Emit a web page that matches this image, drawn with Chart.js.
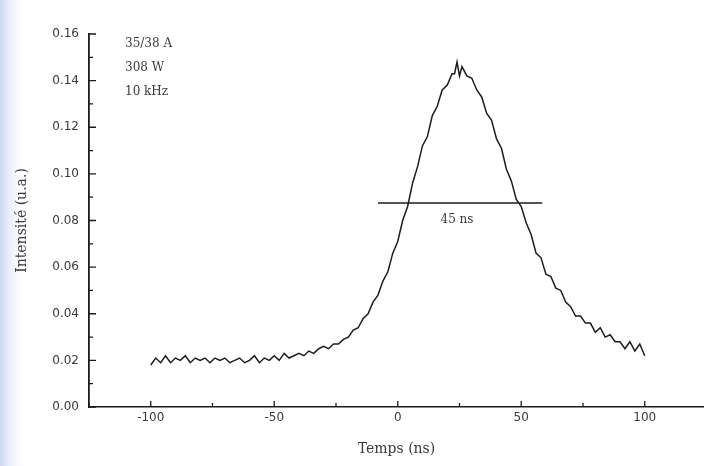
<!DOCTYPE html>
<html lang="fr">
<head>
    <meta charset="UTF-8">
    <title>Intensité vs temps</title>
    <script src="https://cdn.jsdelivr.net/npm/chart.js"></script>
    <style>
        html, body {
            margin: 0;
            padding: 0;
        }
        body {
            width: 704px;
            height: 466px;
            overflow: hidden;
            background: linear-gradient(to right, #cdd7f5 0px, #e6ecfa 8px, #f7f9fe 16px, #ffffff 24px);
        }
        canvas { display: block; }
    </style>
</head>
<body>
    <canvas id="pulseChart" width="704" height="466"></canvas>

    <script>
        const times = [
            -100, -98, -96, -94, -92, -90, -88, -86, -84, -82,
            -80, -78, -76, -74, -72, -70, -68, -66, -64, -62,
            -60, -58, -56, -54, -52, -50, -48, -46, -44, -42,
            -40, -38, -36, -34, -32, -30, -28, -26, -24, -22,
            -20, -18, -16, -14, -12, -10, -8, -6, -4, -2,
            0, 2, 4, 6, 8, 10, 12, 14, 16, 18,
            20, 22, 23, 24, 25, 26, 28, 30, 32, 34,
            36, 38, 40, 42, 44, 46, 48, 50, 52, 54,
            56, 58, 60, 62, 64, 66, 68, 70, 72, 74,
            76, 78, 80, 82, 84, 86, 88, 90, 92, 94,
            96, 98, 100
        ];
        const intensity = [
            0.018, 0.021, 0.019, 0.022, 0.019, 0.021, 0.020, 0.022, 0.019, 0.021,
            0.020, 0.021, 0.019, 0.021, 0.020, 0.021, 0.019, 0.020, 0.021, 0.019,
            0.020, 0.022, 0.019, 0.021, 0.020, 0.022, 0.020, 0.023, 0.021, 0.022,
            0.023, 0.022, 0.024, 0.023, 0.025, 0.026, 0.025, 0.027, 0.027, 0.029,
            0.030, 0.033, 0.034, 0.038, 0.040, 0.045, 0.048, 0.054, 0.058, 0.066,
            0.071, 0.080, 0.086, 0.096, 0.103, 0.112, 0.116, 0.125, 0.129, 0.136,
            0.138, 0.143, 0.143, 0.148, 0.142, 0.146, 0.142, 0.141, 0.136, 0.133,
            0.126, 0.123, 0.115, 0.111, 0.102, 0.097, 0.089, 0.086, 0.079, 0.074,
            0.066, 0.064, 0.057, 0.056, 0.051, 0.050, 0.045, 0.043, 0.039, 0.039,
            0.036, 0.036, 0.032, 0.034, 0.030, 0.031, 0.028, 0.028, 0.025, 0.028,
            0.024, 0.027, 0.022
        ];

        const xTicks = [-100, -50, 0, 50, 100];
        const xMinor = [-125, -75, -25, 25, 75];
        const yTicks = [0, 0.02, 0.04, 0.06, 0.08, 0.10, 0.12, 0.14, 0.16];
        const yMinor = [0.01, 0.03, 0.05, 0.07, 0.09, 0.11, 0.13, 0.15];

        // half-maximum marker
        const fwhmLevel = 0.0875;
        const fwhmFrom = -8;
        const fwhmTo = 58.5;
        const fwhmLabel = '45 ns';
        const conditions = ['35/38 A', '308 W', '10 kHz'];

        const ink = '#1c1c1c';
        const textInk = '#3a3a3a';

        const overlay = {
            id: 'overlay',
            afterDatasetsDraw(chart) {
                const { ctx, chartArea: a, scales: { x, y } } = chart;
                ctx.save();
                ctx.strokeStyle = ink;
                ctx.lineWidth = 1.3;

                // inward ticks
                ctx.beginPath();
                xTicks.forEach(v => {
                    const px = x.getPixelForValue(v);
                    ctx.moveTo(px, a.bottom);
                    ctx.lineTo(px, a.bottom - 6);
                });
                xMinor.forEach(v => {
                    const px = x.getPixelForValue(v);
                    ctx.moveTo(px, a.bottom);
                    ctx.lineTo(px, a.bottom - 4);
                });
                yTicks.forEach(v => {
                    const py = y.getPixelForValue(v);
                    ctx.moveTo(a.left, py);
                    ctx.lineTo(a.left + 7, py);
                });
                yMinor.forEach(v => {
                    const py = y.getPixelForValue(v);
                    ctx.moveTo(a.left, py);
                    ctx.lineTo(a.left + 4, py);
                });
                ctx.stroke();

                // FWHM line
                ctx.lineWidth = 1.4;
                ctx.beginPath();
                ctx.moveTo(x.getPixelForValue(fwhmFrom), y.getPixelForValue(fwhmLevel));
                ctx.lineTo(x.getPixelForValue(fwhmTo), y.getPixelForValue(fwhmLevel));
                ctx.stroke();

                ctx.fillStyle = textInk;
                ctx.font = '12px "DejaVu Serif"';
                ctx.textAlign = 'center';
                ctx.textBaseline = 'middle';
                ctx.fillText(fwhmLabel, x.getPixelForValue(24), y.getPixelForValue(fwhmLevel) + 17);

                // run conditions
                ctx.textAlign = 'left';
                conditions.forEach((t, i) => {
                    ctx.fillText(t, a.left + 36, a.top + 10 + i * 24);
                });
                ctx.restore();
            }
        };

        new Chart(document.getElementById('pulseChart'), {
            type: 'line',
            data: {
                datasets: [{
                    data: times.map((t, i) => ({ x: t, y: intensity[i] })),
                    borderColor: ink,
                    borderWidth: 1.5,
                    pointRadius: 0,
                    tension: 0
                }]
            },
            options: {
                responsive: false,
                animation: false,
                layout: { padding: { top: 34, right: 0, bottom: 0, left: 0 } },
                plugins: {
                    legend: { display: false },
                    tooltip: { enabled: false }
                },
                scales: {
                    x: {
                        type: 'linear',
                        min: -125,
                        max: 124,
                        afterBuildTicks: s => { s.ticks = xTicks.map(v => ({ value: v })); },
                        afterFit: s => { s.height = 59; },
                        grid: { drawOnChartArea: false, drawTicks: false },
                        border: { color: ink, width: 1.6 },
                        ticks: {
                            padding: 4,
                            color: textInk,
                            font: { family: 'DejaVu Sans', size: 12 }
                        },
                        title: {
                            display: true,
                            text: 'Temps (ns)',
                            color: textInk,
                            font: { family: 'DejaVu Serif', size: 14 },
                            padding: { top: 4, bottom: 8 }
                        }
                    },
                    y: {
                        min: 0,
                        max: 0.16,
                        afterBuildTicks: s => { s.ticks = yTicks.map(v => ({ value: v })); },
                        afterFit: s => { s.width = 89; },
                        grid: { drawOnChartArea: false, drawTicks: false },
                        border: { color: ink, width: 1.8 },
                        ticks: {
                            padding: 10,
                            color: textInk,
                            font: { family: 'DejaVu Sans', size: 12 },
                            callback: v => v.toFixed(2)
                        },
                        title: {
                            display: true,
                            text: 'Intensité (u.a.)',
                            color: textInk,
                            font: { family: 'DejaVu Serif', size: 14 },
                            padding: { top: 14, bottom: 0 }
                        }
                    }
                }
            },
            plugins: [overlay]
        });
    </script>
</body>
</html>
